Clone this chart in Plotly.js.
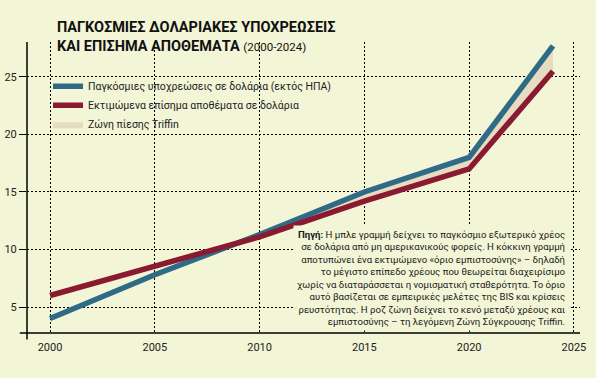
<!DOCTYPE html>
<html><head><meta charset="utf-8">
<script src="https://cdn.plot.ly/plotly-3.0.1.min.js"></script>
<style>html,body{margin:0;padding:0;background:#f2f5d6;}</style>
</head><body>
<div id="chart" style="width:596px;height:378px;"></div>
<script>
const years = [2000, 2005, 2010, 2015, 2020, 2024];
const dollarLiabilities = [4.0, 7.8, 11.3, 15.0, 18.0, 27.7];
const reserveLimit = [6.0, 8.5, 11.1, 14.2, 17.0, 25.5];
const xTicks = [2000, 2005, 2010, 2015, 2020, 2025];
const yTicks = [5, 10, 15, 20, 25];
const seriesNames = ['Παγκόσμιες υποχρεώσεις σε δολάρια (εκτός ΗΠΑ)', 'Εκτιμώμενα επίσημα αποθέματα σε δολάρια', 'Ζώνη πίεσης Triffin'];
const titleMain = 'ΠΑΓΚΟΣΜΙΕΣ ΔΟΛΑΡΙΑΚΕΣ ΥΠΟΧΡΕΩΣΕΙΣ';
const titleLine2 = 'ΚΑΙ ΕΠΙΣΗΜΑ ΑΠΟΘΕΜΑΤΑ';
const titlePeriod = '(2000-2024)';
const noteLines = [
 '<b>Πηγή:</b> Η μπλε γραμμή δείχνει το παγκόσμιο εξωτερικό χρέος',
 'σε δολάρια από μη αμερικανικούς φορείς. Η κόκκινη γραμμή',
 'αποτυπώνει ένα εκτιμώμενο «όριο εμπιστοσύνης» – δηλαδή',
 'το μέγιστο επίπεδο χρέους που θεωρείται διαχειρίσιμο',
 'χωρίς να διαταράσσεται η νομισματική σταθερότητα. Το όριο',
 'αυτό βασίζεται σε εμπειρικές μελέτες της BIS και κρίσεις',
 'ρευστότητας. Η ροζ ζώνη δείχνει το κενό μεταξύ χρέους και',
 'εμπιστοσύνης – τη λεγόμενη Ζώνη Σύγκρουσης Triffin.'
];

// Build the Triffin zone polygon (where liabilities exceed reserves)
const upX = [], upY = [], loY = [];
for (let i = 0; i < years.length; i++) {
  const d = dollarLiabilities[i] - reserveLimit[i];
  if (i > 0) {
    const dp = dollarLiabilities[i-1] - reserveLimit[i-1];
    if (dp < 0 && d >= 0) {
      const t = -dp / (d - dp);
      const xc = years[i-1] + t * (years[i] - years[i-1]);
      const yc = reserveLimit[i-1] + t * (reserveLimit[i] - reserveLimit[i-1]);
      upX.push(xc); upY.push(yc); loY.push(yc);
    }
  }
  if (d >= 0) { upX.push(years[i]); upY.push(dollarLiabilities[i]); loY.push(reserveLimit[i]); }
}
const zoneX = upX.concat(upX.slice().reverse());
const zoneY = upY.concat(loY.slice().reverse());

const BG = '#f2f5d6';
const traces = [
  {x: zoneX, y: zoneY, type: 'scatter', mode: 'lines', fill: 'toself', fillcolor: '#e6dcc2',
   line: {width: 0, color: '#e6dcc2'}, name: seriesNames[2], legendrank: 3, hoverinfo: 'skip'},
  {x: years, y: dollarLiabilities, type: 'scatter', mode: 'lines', name: seriesNames[0],
   line: {color: '#2f6b86', width: 5.5}, legendrank: 1},
  {x: years, y: reserveLimit, type: 'scatter', mode: 'lines', name: seriesNames[1],
   line: {color: '#8a1a2f', width: 5.5}, legendrank: 2}
];

const layout = {
  width: 596, height: 378,
  paper_bgcolor: BG, plot_bgcolor: BG,
  margin: {l: 27, r: 16, t: 42, b: 45},
  font: {family: 'Roboto, sans-serif', color: '#1a1a1a', size: 11},
  title: {
    text: '<b>' + titleMain + '</b><br><b>' + titleLine2 + '</b> <span style="font-size:11.5px">' + titlePeriod + '</span>',
    font: {family: 'Roboto, sans-serif', size: 14.5, color: '#111'},
    x: 57/596, xanchor: 'left', xref: 'container', y: 1 - 32/378, yanchor: 'top', yref: 'container'
  },
  showlegend: true,
  legend: {x: 0.038, y: 0.8976, xanchor: 'left', yanchor: 'top', bgcolor: 'rgba(0,0,0,0)',
           font: {size: 10.5, color: '#222'}, itemwidth: 30, tracegroupgap: 0},
  xaxis: {range: [1998.9, 2025.29], tickvals: xTicks, ticktext: xTicks.map(String),
          showgrid: true, gridcolor: '#000', griddash: '2px,2px', gridwidth: 1,
          zeroline: false, showline: false, ticks: '', fixedrange: true, ticklabelstandoff: 6,
          tickfont: {size: 11, color: '#222'}},
  yaxis: {range: [2.74, 28.04], tickvals: yTicks, ticktext: yTicks.map(String),
          showgrid: true, gridcolor: '#000', griddash: '2px,2px', gridwidth: 1,
          zeroline: false, showline: false, ticks: 'outside', ticklen: 7, tickcolor: '#000', tickwidth: 1,
          fixedrange: true, tickfont: {size: 11, color: '#222'}},
  shapes: [
    {type: 'line', xref: 'paper', yref: 'paper', x0: -0.013, x1: 1.0, y0: 0, y1: 0, line: {color: '#000', width: 1.5}},
    {type: 'line', xref: 'paper', yref: 'paper', x0: 0, x1: 0, y0: -0.022, y1: 1, line: {color: '#000', width: 1.5}}
  ],
  annotations: [{
    xref: 'paper', yref: 'paper', x: (570-27)/553, y: (333-331)/291, xanchor: 'right', yanchor: 'bottom',
    text: noteLines.join('<br>'), align: 'right', showarrow: false,
    bgcolor: BG, borderpad: 3, font: {size: 9.6, color: '#1a1a1a', family: 'Roboto, sans-serif'}
  }]
};

Plotly.newPlot('chart', traces, layout, {displayModeBar: false, staticPlot: true});
</script>
</body></html>
